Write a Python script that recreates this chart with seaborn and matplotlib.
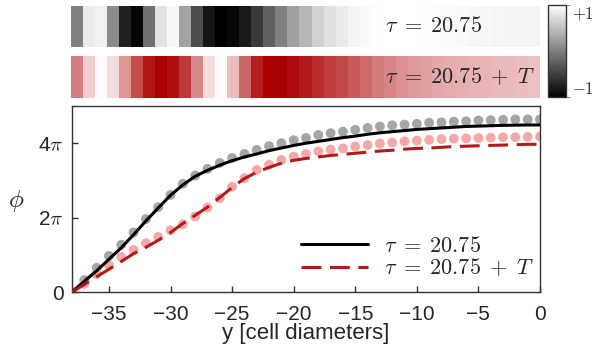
import numpy as np
import pandas as pd
import matplotlib
matplotlib.use("Agg")
import matplotlib.pyplot as plt
from matplotlib.colors import LinearSegmentedColormap
import seaborn as sns

# --- DATA ---
positions = list(range(-38, 1))  # cell position y [cell diameters]

# smooth fits (units of pi)
phi_line_tau = [0.00, 0.29, 0.57, 0.88, 1.19, 1.54, 1.91, 2.26, 2.60, 2.88,
                3.11, 3.27, 3.41, 3.53, 3.63, 3.71, 3.80, 3.87, 3.94, 4.00,
                4.05, 4.10, 4.15, 4.19, 4.24, 4.28, 4.31, 4.34, 4.37, 4.39,
                4.41, 4.43, 4.45, 4.46, 4.47, 4.48, 4.485, 4.49, 4.49]
phi_line_tauT = [0.00, 0.20, 0.41, 0.61, 0.82, 1.03, 1.20, 1.39, 1.60, 1.84,
                 2.06, 2.28, 2.54, 2.81, 3.05, 3.22, 3.35, 3.46, 3.54, 3.59,
                 3.63, 3.67, 3.70, 3.73, 3.76, 3.79, 3.81, 3.84, 3.86, 3.87,
                 3.89, 3.91, 3.92, 3.93, 3.94, 3.95, 3.96, 3.97, 3.97]

# measured phases (dots, units of pi)
phi_dots_tau = [0.00, 0.32, 0.65, 0.97, 1.27, 1.60, 1.96, 2.28, 2.61, 2.91,
                3.13, 3.31, 3.47, 3.60, 3.71, 3.82, 3.92, 4.00, 4.08, 4.14,
                4.22, 4.27, 4.31, 4.36, 4.41, 4.45, 4.48, 4.50, 4.52, 4.55,
                4.56, 4.58, 4.59, 4.61, 4.62, 4.63, 4.64, 4.64, 4.64]
phi_dots_tauT = [0.00, 0.22, 0.48, 0.73, 0.94, 1.13, 1.31, 1.48, 1.66, 1.82,
                 2.03, 2.27, 2.52, 2.83, 3.06, 3.28, 3.42, 3.55, 3.64, 3.71,
                 3.78, 3.83, 3.86, 3.91, 3.95, 3.99, 4.02, 4.05, 4.07, 4.09,
                 4.11, 4.12, 4.13, 4.14, 4.15, 4.16, 4.16, 4.17, 4.18]

# strip values (-1 .. +1)
strip_tau = [0.00, 0.84, 0.89, 0.09, -0.75, -0.95, -0.13, 0.77, 0.94, 0.28,
             -0.40, -0.83, -1.00, -0.95, -0.79, -0.54, -0.25, 0.00, 0.25, 0.43,
             0.64, 0.75, 0.83, 0.91, 0.96, 0.99, 1.00, 1.00, 1.00, 0.99,
             0.98, 0.97, 0.96, 0.94, 0.93, 0.92, 0.91, 0.91, 0.91]
strip_tauT = [0.00, 0.64, 1.00, 0.75, 0.19, -0.40, -0.83, -1.00, -0.88, -0.54,
              0.09, 0.75, 1.00, 0.51, -0.19, -0.77, -0.97, -0.99, -0.90, -0.79,
              -0.64, -0.51, -0.43, -0.28, -0.16, -0.03, 0.06, 0.16, 0.22, 0.28,
              0.34, 0.37, 0.40, 0.43, 0.45, 0.48, 0.48, 0.50, 0.54]

label_tau = r"$\tau \;=\; 20.75$"
label_tauT = r"$\tau \;=\; 20.75 \;+\; T$"

# --- STYLE ---
sns.set_style("ticks")
plt.rcParams["font.family"] = ["Liberation Sans", "DejaVu Sans"]
plt.rcParams["mathtext.fontset"] = "cm"
plt.rcParams["axes.unicode_minus"] = True

fig = plt.figure(figsize=(5.95, 3.49), dpi=100)
W, H = 595, 349


def px_axes(x0, y0, x1, y1):
    return fig.add_axes([x0 / W, 1 - y1 / H, (x1 - x0) / W, (y1 - y0) / H])


ax_top = px_axes(71, 6, 540, 47)
ax_mid = px_axes(71, 56, 540, 98)
cax = px_axes(548, 5, 566, 97)
ax = px_axes(72, 106, 540, 292)

# --- STRIPS ---
df_top = pd.DataFrame([strip_tau], columns=positions)
df_mid = pd.DataFrame([strip_tauT], columns=positions)
red_cmap = LinearSegmentedColormap.from_list("reds", ["#aa0000", "#fffafc"])

sns.heatmap(df_top, ax=ax_top, cmap="gray", vmin=-1, vmax=1,
            cbar=True, cbar_ax=cax, xticklabels=False, yticklabels=False)
sns.heatmap(df_mid, ax=ax_mid, cmap=red_cmap, vmin=-1, vmax=1,
            cbar=False, xticklabels=False, yticklabels=False)
for a in (ax_top, ax_mid):
    for s in a.spines.values():
        s.set_visible(False)
    a.tick_params(length=0)
    a.set_xlabel("")
    a.set_ylabel("")
ax_top.text(0.67, 0.5, label_tau, transform=ax_top.transAxes,
            fontsize=16, va="center", ha="left")
ax_mid.text(0.67, 0.5, label_tauT, transform=ax_mid.transAxes,
            fontsize=16, va="center", ha="left")

cb = ax_top.collections[0].colorbar
cb.set_ticks([-1, 1])
cb.set_ticklabels([r"$-1$", r"$+1$"])
cb.ax.tick_params(labelsize=12, length=3, width=0.8, color="#888888", pad=1.5)
tl = cb.ax.get_yticklabels()
tl[0].set_va("bottom")
tl[1].set_va("top")
cb.outline.set_visible(True)
cb.outline.set_edgecolor("#333333")
cb.outline.set_linewidth(1.0)

# --- MAIN PANEL ---
df = pd.DataFrame({
    "y": positions,
    "line_tau": np.array(phi_line_tau) * np.pi,
    "line_tauT": np.array(phi_line_tauT) * np.pi,
    "dots_tau": np.array(phi_dots_tau) * np.pi,
    "dots_tauT": np.array(phi_dots_tauT) * np.pi,
})

sns.scatterplot(data=df, x="y", y="dots_tau", ax=ax, color="#a3a6a6",
                s=50, edgecolor="none", zorder=2, legend=False)
sns.scatterplot(data=df, x="y", y="dots_tauT", ax=ax, color="#f6a8a8",
                s=50, edgecolor="none", zorder=2, legend=False)
sns.lineplot(data=df, x="y", y="line_tau", ax=ax, color="black",
             lw=2.2, label=label_tau, zorder=3)
sns.lineplot(data=df, x="y", y="line_tauT", ax=ax, color="#b01c1c",
             lw=2.2, linestyle=(0, (6.5, 2.8)), label=label_tauT, zorder=3)

ax.set_xlim(-38, 0)
ax.set_ylim(0, 5 * np.pi)
ax.set_xticks([-35, -30, -25, -20, -15, -10, -5, 0])
ax.set_yticks([0, 2 * np.pi, 4 * np.pi])
ax.set_yticklabels(["0", r"2$\pi$", r"4$\pi$"])
ax.tick_params(direction="in", length=4, width=1, labelsize=15, color="#333333")
ax.tick_params(axis="x", pad=9)
ax.tick_params(axis="y", pad=6)
for s in ax.spines.values():
    s.set_visible(True)
    s.set_linewidth(1.0)
    s.set_color("#333333")

ax.set_xlabel("y [cell diameters]", fontsize=16, labelpad=0)
ax.set_ylabel(r"$\phi$", fontsize=18, rotation=0, va="center")
ax.yaxis.set_label_coords(-0.12, 0.49)

ax.legend(loc="lower right", bbox_to_anchor=(1.03, -0.04), frameon=False,
          fontsize=16, handlelength=3.0, handletextpad=0.75, labelspacing=0.05)

plt.savefig("out.png", dpi=100)
